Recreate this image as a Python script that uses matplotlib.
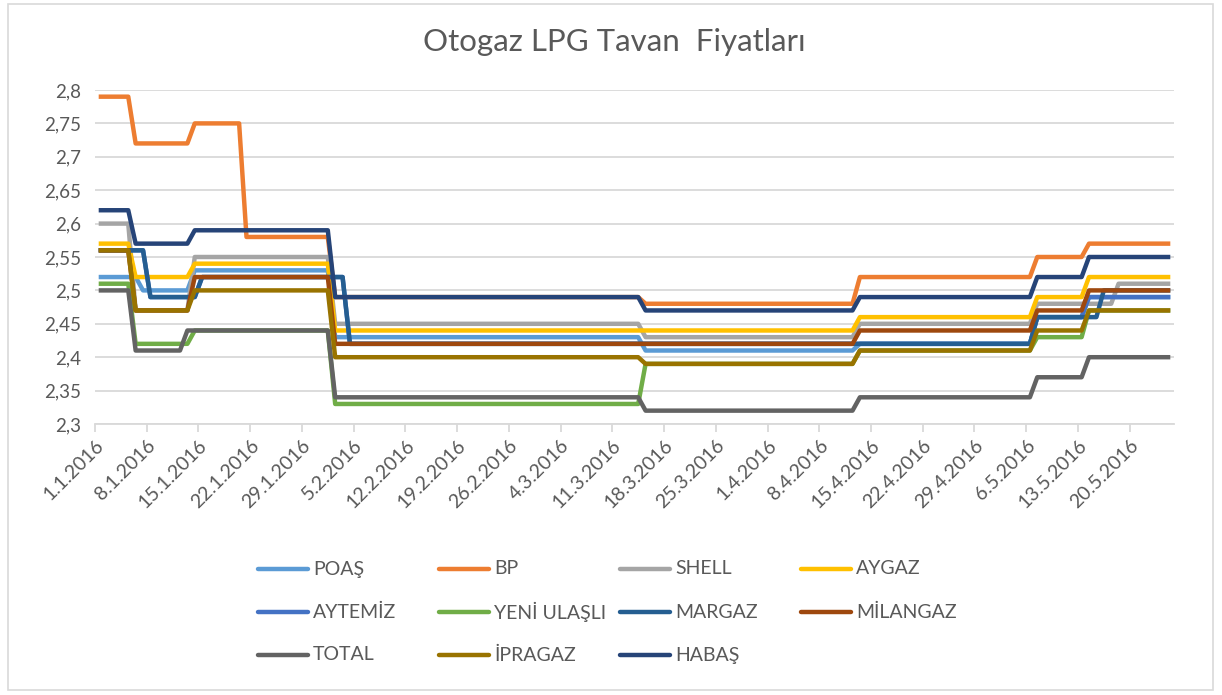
import pandas as pd
import numpy as np
import matplotlib
matplotlib.use('Agg')
import matplotlib.pyplot as plt
from matplotlib.lines import Line2D
from matplotlib.patches import Rectangle

plt.rcParams['font.family'] = ['Lato', 'DejaVu Sans']

W, H = 1222, 695
TEXT = '#595959'
GRID = '#D9D9D9'

# günlük tarih ekseni
DATES = pd.date_range('2016-01-01', '2016-05-25', freq='D')

# fiyat değişiklikleri: (yeni fiyatın geçerli olduğu gün, fiyat)
poas = [('2016-01-01', 2.52), ('2016-01-07', 2.50), ('2016-01-14', 2.53), ('2016-02-02', 2.43),
        ('2016-03-15', 2.41), ('2016-04-13', 2.42), ('2016-05-07', 2.46), ('2016-05-14', 2.49)]
bp = [('2016-01-01', 2.79), ('2016-01-06', 2.72), ('2016-01-14', 2.75), ('2016-01-21', 2.58),
      ('2016-02-02', 2.49), ('2016-03-15', 2.48), ('2016-04-13', 2.52), ('2016-05-07', 2.55),
      ('2016-05-14', 2.57)]
shell = [('2016-01-01', 2.60), ('2016-01-06', 2.47), ('2016-01-14', 2.55), ('2016-02-02', 2.45),
         ('2016-03-15', 2.43), ('2016-04-13', 2.45), ('2016-05-07', 2.48), ('2016-05-18', 2.51)]
aygaz = [('2016-01-01', 2.57), ('2016-01-06', 2.52), ('2016-01-14', 2.54), ('2016-02-02', 2.44),
         ('2016-04-13', 2.46), ('2016-05-07', 2.49), ('2016-05-14', 2.52)]
aytemiz = [('2016-01-01', 2.56), ('2016-01-08', 2.49), ('2016-01-15', 2.52), ('2016-02-04', 2.42),
           ('2016-05-07', 2.46), ('2016-05-14', 2.49)]
yeni_ulasli = [('2016-01-01', 2.51), ('2016-01-06', 2.42), ('2016-01-14', 2.44), ('2016-02-02', 2.33),
               ('2016-03-15', 2.39), ('2016-04-13', 2.41), ('2016-05-07', 2.43), ('2016-05-14', 2.47)]
margaz = [('2016-01-01', 2.56), ('2016-01-08', 2.49), ('2016-01-15', 2.52), ('2016-02-04', 2.42),
          ('2016-05-07', 2.46), ('2016-05-16', 2.50)]
milangaz = [('2016-01-01', 2.56), ('2016-01-06', 2.47), ('2016-01-14', 2.52), ('2016-02-02', 2.42),
            ('2016-04-13', 2.44), ('2016-05-07', 2.47), ('2016-05-14', 2.50)]
total = [('2016-01-01', 2.50), ('2016-01-06', 2.41), ('2016-01-13', 2.44), ('2016-02-02', 2.34),
         ('2016-03-15', 2.32), ('2016-04-13', 2.34), ('2016-05-07', 2.37), ('2016-05-14', 2.40)]
ipragaz = [('2016-01-01', 2.56), ('2016-01-06', 2.47), ('2016-01-14', 2.50), ('2016-02-02', 2.40),
           ('2016-03-15', 2.39), ('2016-04-13', 2.41), ('2016-05-07', 2.44), ('2016-05-14', 2.47)]
habas = [('2016-01-01', 2.62), ('2016-01-06', 2.57), ('2016-01-14', 2.59), ('2016-02-02', 2.49),
         ('2016-03-15', 2.47), ('2016-04-13', 2.49), ('2016-05-07', 2.52), ('2016-05-14', 2.55)]

SERIES = [
    ('POAŞ', poas, '#5B9BD5'),
    ('BP', bp, '#ED7D31'),
    ('SHELL', shell, '#A5A5A5'),
    ('AYGAZ', aygaz, '#FFC000'),
    ('AYTEMİZ', aytemiz, '#4472C4'),
    ('YENİ ULAŞLI', yeni_ulasli, '#70AD47'),
    ('MARGAZ', margaz, '#255E91'),
    ('MİLANGAZ', milangaz, '#9E480E'),
    ('TOTAL', total, '#636363'),
    ('İPRAGAZ', ipragaz, '#997300'),
    ('HABAŞ', habas, '#264478'),
]

Y_TICKS = [2.3, 2.35, 2.4, 2.45, 2.5, 2.55, 2.6, 2.65, 2.7, 2.75, 2.8]
X_TICKS = pd.date_range('2016-01-01', '2016-05-20', freq='7D')


def daily(changes):
    d = pd.to_datetime([c[0] for c in changes])
    v = [c[1] for c in changes]
    return pd.Series(v, index=d).reindex(DATES).ffill()


fig = plt.figure(figsize=(W / 100, H / 100), dpi=100)
ax = fig.add_axes([95 / W, 1 - 424 / H, (1174 - 95) / W, (424 - 90) / H])

# her gün kendi aralığının ortasında
xpos = DATES + pd.Timedelta(hours=12)
for name, ch, col in SERIES:
    ax.plot(xpos, daily(ch).values, color=col, lw=3.2, label=name,
            solid_joinstyle='round', solid_capstyle='butt')

ax.set_xlim(DATES[0], DATES[-1] + pd.Timedelta(days=1))
ax.set_ylim(2.3, 2.8)
ax.set_yticks(Y_TICKS)
ax.set_yticklabels([('%g' % t).replace('.', ',') for t in Y_TICKS])
ax.set_xticks(X_TICKS)
ax.set_xticklabels(['%d.%d.%d' % (d.day, d.month, d.year) for d in X_TICKS])
plt.setp(ax.get_xticklabels(), rotation=45, ha='right', rotation_mode='anchor')

ax.yaxis.grid(True, color=GRID, lw=1.3)
ax.set_axisbelow(True)
for s in ['left', 'right', 'top']:
    ax.spines[s].set_visible(False)
ax.spines['bottom'].set_color(GRID)
ax.spines['bottom'].set_linewidth(1.3)
ax.tick_params(axis='x', length=6, width=1.3, color=GRID, labelsize=14, labelcolor=TEXT, pad=3)
ax.tick_params(axis='y', length=0, pad=10, labelsize=13.5, labelcolor=TEXT)

fig.text(614 / W, 1 - 42 / H, 'Otogaz LPG Tavan  Fiyatları', ha='center', va='center',
         fontsize=22.5, color=TEXT)

# lejant: 4 sütun, satır satır
for i, (name, ch, col) in enumerate(SERIES):
    r, c = divmod(i, 4)
    x0 = 258 + c * 181
    y0 = 569 + r * 43
    fig.add_artist(Line2D([x0 / W, (x0 + 50) / W], [1 - y0 / H, 1 - y0 / H],
                          color=col, lw=3.2, solid_capstyle='round'))
    fig.text((x0 + 55) / W, 1 - y0 / H, name, ha='left', va='center', fontsize=14, color=TEXT)

fig.add_artist(Rectangle((8 / W, 1 - 690 / H), (1213 - 8) / W, (690 - 4) / H,
                         fill=False, edgecolor=GRID, lw=1.2))

plt.savefig('out.png', dpi=100)
